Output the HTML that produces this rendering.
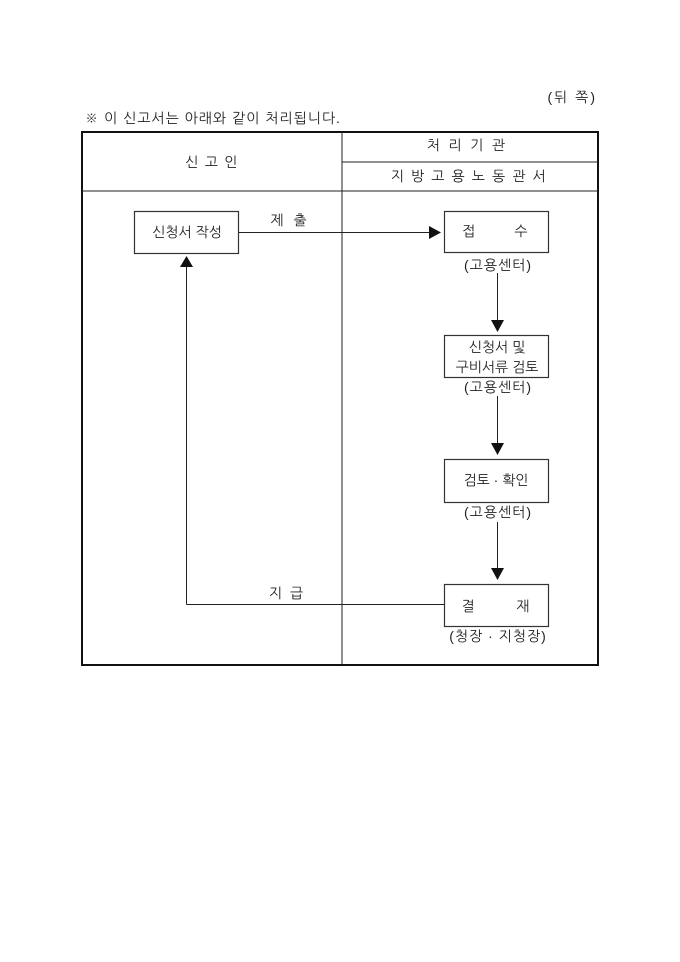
<!DOCTYPE html>
<html>
<head>
<meta charset="utf-8">
<style>
  html, body { margin:0; padding:0; background:#fff; }
  body { width:680px; height:962px; overflow:hidden; }
  svg { display:block; }
  text { font-family: "Liberation Sans", "NanumGothic", "Noto Sans CJK KR", sans-serif; font-size:14px; fill:#222; }
</style>
</head>
<body>
<svg width="680" height="962" viewBox="0 0 680 962" xmlns="http://www.w3.org/2000/svg">
  <!-- top labels -->
  <text x="597" y="97" text-anchor="end" dominant-baseline="central" letter-spacing="2">(뒤 쪽)</text>
  <text x="85" y="118" dominant-baseline="central" letter-spacing="1">※ 이 신고서는 아래와 같이 처리됩니다.</text>

  <!-- table -->
  <rect x="82" y="132" width="516" height="533" fill="none" stroke="#111" stroke-width="2"/>
  <line x1="342" y1="132" x2="342" y2="665" stroke="#222" stroke-width="1"/>
  <line x1="82" y1="191" x2="598" y2="191" stroke="#222" stroke-width="1"/>
  <line x1="342" y1="162" x2="598" y2="162" stroke="#222" stroke-width="1"/>

  <text x="212" y="162" text-anchor="middle" dominant-baseline="central" letter-spacing="1.3">신 고 인</text>
  <text x="467" y="145" text-anchor="middle" dominant-baseline="central" letter-spacing="2.3">처 리 기 관</text>
  <text x="469" y="176" text-anchor="middle" dominant-baseline="central" letter-spacing="1.6">지 방 고 용 노 동 관 서</text>

  <!-- boxes -->
  <rect x="134.5" y="211.5" width="104" height="42" fill="none" stroke="#333" stroke-width="1.2"/>
  <text x="187" y="232" text-anchor="middle" dominant-baseline="central">신청서 작성</text>

  <rect x="444.5" y="211.5" width="104" height="41" fill="none" stroke="#333" stroke-width="1.2"/>
  <text x="469" y="231" text-anchor="middle" dominant-baseline="central">접</text>
  <text x="521" y="231" text-anchor="middle" dominant-baseline="central">수</text>
  <text x="498" y="265" text-anchor="middle" dominant-baseline="central" letter-spacing="1">(고용센터)</text>

  <rect x="444.5" y="335.5" width="104" height="42" fill="none" stroke="#333" stroke-width="1.2"/>
  <text x="497" y="347" text-anchor="middle" dominant-baseline="central">신청서 및</text>
  <text x="497" y="367" text-anchor="middle" dominant-baseline="central">구비서류 검토</text>
  <text x="498" y="387" text-anchor="middle" dominant-baseline="central" letter-spacing="1">(고용센터)</text>

  <rect x="444.5" y="459.5" width="104" height="43" fill="none" stroke="#333" stroke-width="1.2"/>
  <text x="496" y="480" text-anchor="middle" dominant-baseline="central">검토 · 확인</text>
  <text x="498" y="512" text-anchor="middle" dominant-baseline="central" letter-spacing="1">(고용센터)</text>

  <rect x="444.5" y="584.5" width="104" height="42" fill="none" stroke="#333" stroke-width="1.2"/>
  <text x="468" y="606" text-anchor="middle" dominant-baseline="central">결</text>
  <text x="523" y="606" text-anchor="middle" dominant-baseline="central">재</text>
  <text x="498" y="636" text-anchor="middle" dominant-baseline="central" letter-spacing="1">(청장 · 지청장)</text>

  <!-- connectors -->
  <!-- 제출 -->
  <line x1="239" y1="232.5" x2="430" y2="232.5" stroke="#222" stroke-width="1"/>
  <polygon points="429,226 441,232.5 429,239" fill="#111"/>
  <text x="290" y="220" text-anchor="middle" dominant-baseline="central" letter-spacing="3">제 출</text>

  <!-- 접수 -> 검토 -->
  <line x1="497.5" y1="273" x2="497.5" y2="321" stroke="#222" stroke-width="1"/>
  <polygon points="491,320 504,320 497.5,332" fill="#111"/>

  <line x1="497.5" y1="396" x2="497.5" y2="444" stroke="#222" stroke-width="1"/>
  <polygon points="491,443 504,443 497.5,455" fill="#111"/>

  <line x1="497.5" y1="522" x2="497.5" y2="569" stroke="#222" stroke-width="1"/>
  <polygon points="491,568 504,568 497.5,580" fill="#111"/>

  <!-- 지급 -->
  <line x1="444" y1="604.5" x2="186.5" y2="604.5" stroke="#222" stroke-width="1"/>
  <line x1="186.5" y1="604.5" x2="186.5" y2="266" stroke="#222" stroke-width="1"/>
  <polygon points="180,267 193,267 186.5,256" fill="#111"/>
  <text x="287" y="593" text-anchor="middle" dominant-baseline="central" letter-spacing="2">지 급</text>
</svg>
</body>
</html>
